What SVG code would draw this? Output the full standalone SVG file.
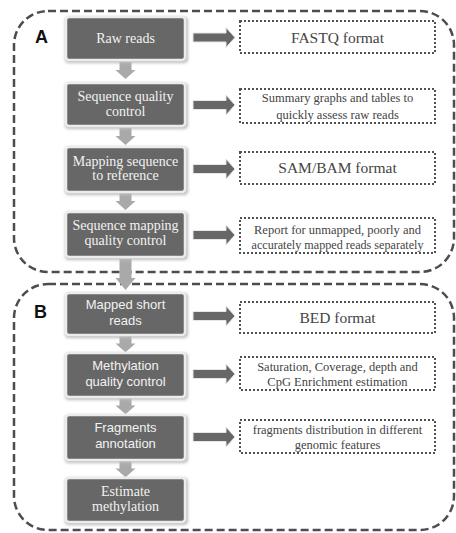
<svg xmlns="http://www.w3.org/2000/svg" width="456" height="533" viewBox="0 0 456 533">
<style>
.grp{fill:none;stroke:#4d4d4d;stroke-width:2.5;stroke-dasharray:8 4}
.node{fill:#676767;stroke:#ececec;stroke-width:2.5}
.shadow{fill:#bdbdbd;filter:url(#blur)}
.nt{font-family:"Liberation Serif",serif;font-size:14px;fill:#f2f2f2;text-anchor:middle}
.ns{font-family:"Liberation Sans",sans-serif;font-size:13px;fill:#f2f2f2;text-anchor:middle}
.out{fill:#fff;stroke:#505050;stroke-width:2;stroke-dasharray:2 2}
.ot{font-family:"Liberation Serif",serif;font-size:12.5px;fill:#444;text-anchor:middle}
.ob{font-family:"Liberation Serif",serif;font-size:15.5px;fill:#444;text-anchor:middle}
.lab{font-family:"Liberation Sans",sans-serif;font-size:18px;font-weight:bold;fill:#111}
.ra{fill:#676767;stroke:#e6e6e6;stroke-width:1}
.da{fill:#a9a9a9}
</style>
<defs>
<filter id="blur" x="-10%" y="-20%" width="120%" height="140%"><feGaussianBlur stdDeviation="1.5"/></filter>
<path id="rarr" d="M0,-4.5 H33 V-10 L42,0 L33,10 V4.5 H0 Z"/>
<path id="darr" d="M-6,0 H6 V8 H10 L0,17 L-10,8 H-6 Z"/>
</defs>
<rect fill="#fff" width="456" height="533"/>
<g id="groupA"><rect class="grp" x="14" y="11" width="440" height="261" rx="34"/><text class="lab" x="35" y="43">A</text></g>
<g id="groupB"><rect class="grp" x="14" y="284" width="440" height="246" rx="34"/><text class="lab" x="34" y="318">B</text></g>
<g id="connectors">
<use href="#darr" class="da" x="125.5" y="62"/>
<use href="#darr" class="da" x="125.5" y="128"/>
<use href="#darr" class="da" x="125.5" y="193"/>
<path class="da" d="M119.5,259 H131.5 V278 H135.5 L125.5,290 L115.5,278 H119.5 Z"/>
<use href="#darr" class="da" transform="translate(125.5,336) scale(1,0.95)"/>
<use href="#darr" class="da" transform="translate(125.5,398) scale(1,0.95)"/>
<use href="#darr" class="da" transform="translate(125.5,461) scale(1,0.95)"/>
<use href="#rarr" class="ra" x="193" y="37.5"/>
<use href="#rarr" class="ra" x="193" y="105"/>
<use href="#rarr" class="ra" x="193" y="169"/>
<use href="#rarr" class="ra" x="193" y="235"/>
<use href="#rarr" class="ra" x="193" y="316"/>
<use href="#rarr" class="ra" x="193" y="374"/>
<use href="#rarr" class="ra" x="193" y="437"/>
</g>
<g id="n1"><rect class="shadow" x="65" y="17" width="123" height="46" rx="4"/><rect class="node" x="66" y="17" width="119" height="43" rx="3"/><text class="nt" x="125.5" y="43">Raw reads</text></g>
<g id="n2"><rect class="shadow" x="65" y="83" width="123" height="46" rx="4"/><rect class="node" x="66" y="83" width="119" height="43" rx="3"/><text class="nt" x="125.5" y="101">Sequence quality</text><text class="nt" x="125.5" y="116">control</text></g>
<g id="n3"><rect class="shadow" x="65" y="147" width="123" height="48" rx="4"/><rect class="node" x="66" y="147" width="119" height="45" rx="3"/><text class="nt" x="125.5" y="166">Mapping sequence</text><text class="nt" x="125.5" y="180">to reference</text></g>
<g id="n4"><rect class="shadow" x="65" y="212" width="123" height="48" rx="4"/><rect class="node" x="66" y="212" width="119" height="45" rx="3"/><text class="nt" x="125.5" y="230">Sequence mapping</text><text class="nt" x="125.5" y="245">quality control</text></g>
<g id="n5"><rect class="shadow" x="65" y="293" width="123" height="45" rx="4"/><rect class="node" x="66" y="293" width="119" height="42" rx="3"/><text class="ns" x="125.5" y="309">Mapped short</text><text class="ns" x="125.5" y="325">reads</text></g>
<g id="n6"><rect class="shadow" x="65" y="353" width="123" height="47" rx="4"/><rect class="node" x="66" y="353" width="119" height="44" rx="3"/><text class="ns" x="125.5" y="370">Methylation</text><text class="ns" x="125.5" y="386">quality control</text></g>
<g id="n7"><rect class="shadow" x="65" y="415" width="123" height="48" rx="4"/><rect class="node" x="66" y="415" width="119" height="45" rx="3"/><text class="ns" x="125.5" y="432">Fragments</text><text class="ns" x="125.5" y="448">annotation</text></g>
<g id="n8"><rect class="shadow" x="65" y="478" width="123" height="47" rx="4"/><rect class="node" x="66" y="478" width="119" height="44" rx="3"/><text class="nt" x="125.5" y="496">Estimate</text><text class="nt" x="125.5" y="511">methylation</text></g>
<g id="o1"><rect class="out" x="240" y="21" width="195" height="32"/><text class="ob" x="337.5" y="43">FASTQ format</text></g>
<g id="o2"><rect class="out" x="240" y="89" width="195" height="34"/><text class="ot" x="337.5" y="102" font-size="13">Summary graphs and tables to</text><text class="ot" x="337.5" y="119" font-size="13">quickly assess raw reads</text></g>
<g id="o3"><rect class="out" x="240" y="152" width="195" height="32"/><text class="ob" x="337.5" y="173">SAM/BAM format</text></g>
<g id="o4"><rect class="out" x="240" y="218" width="195" height="35"/><text class="ot" x="337.5" y="234">Report for unmapped, poorly and</text><text class="ot" x="337.5" y="249" textLength="172" lengthAdjust="spacingAndGlyphs">accurately mapped reads separately</text></g>
<g id="o5"><rect class="out" x="240" y="302" width="195" height="31"/><text class="ob" x="337.5" y="323">BED format</text></g>
<g id="o6"><rect class="out" x="240" y="357" width="195" height="33"/><text class="ot" x="337.5" y="371">Saturation, Coverage, depth and</text><text class="ot" x="337.5" y="386">CpG Enrichment estimation</text></g>
<g id="o7"><rect class="out" x="240" y="420" width="195" height="33"/><text class="ot" x="337.5" y="434">fragments distribution in different</text><text class="ot" x="337.5" y="449">genomic features</text></g>
</svg>
